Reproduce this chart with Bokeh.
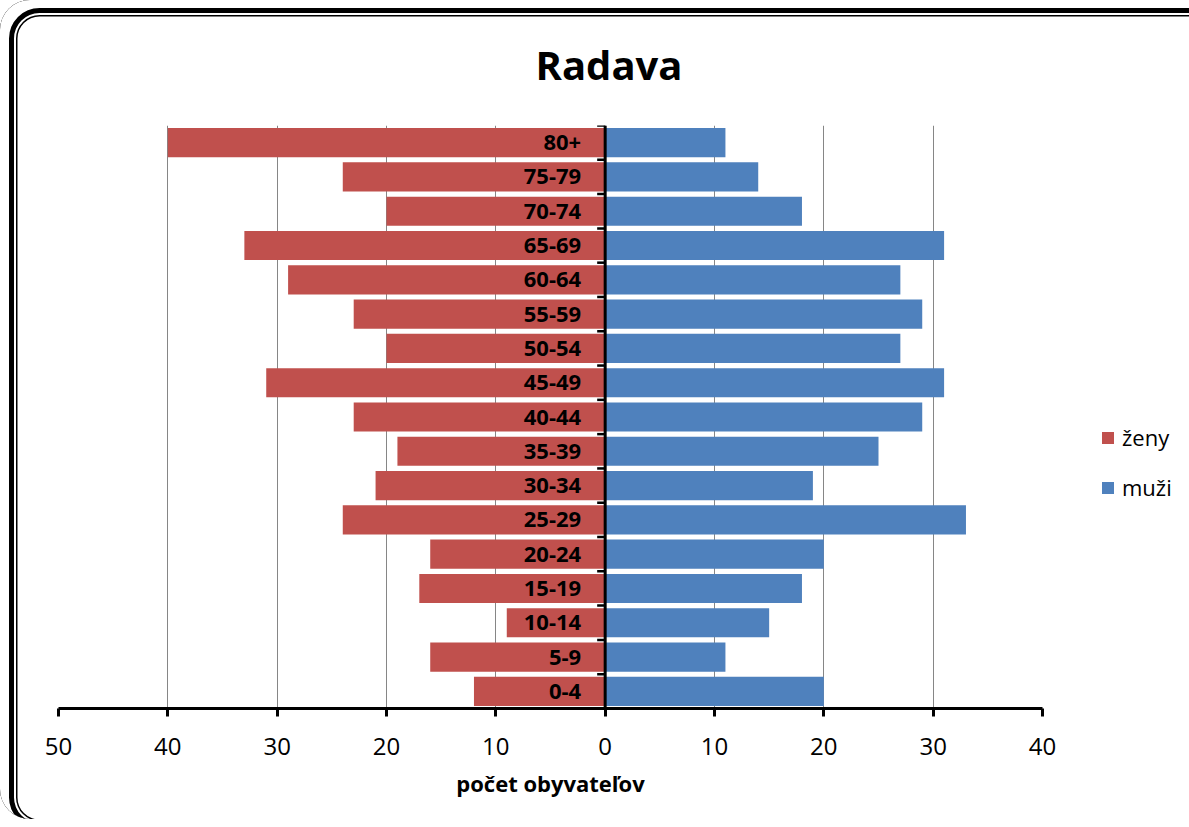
import numpy as np
from bokeh.plotting import figure
from bokeh.models import (ColumnDataSource, Range1d, FixedTicker, CustomJSTickFormatter,
                          Span, Legend, LegendItem)
from bokeh.core.properties import value
from bokeh.embed import file_html
from bokeh.resources import INLINE

# ---- data (bottom -> top) ----
ages = ["0-4", "5-9", "10-14", "15-19", "20-24", "25-29", "30-34", "35-39", "40-44",
        "45-49", "50-54", "55-59", "60-64", "65-69", "70-74", "75-79", "80+"]
zeny = [12, 16, 9, 17, 16, 24, 21, 19, 23, 31, 20, 23, 29, 33, 20, 24, 40]
muzi = [20, 11, 15, 18, 20, 33, 19, 25, 29, 31, 27, 29, 27, 31, 18, 14, 11]
x_ticks = [-50, -40, -30, -20, -10, 0, 10, 20, 30, 40]
title_text = "Radava"
x_label = "počet obyvateľov"
FONT = "Open Sans"

n = len(ages)
ypos = list(range(n))
src = ColumnDataSource(dict(
    y=ypos, age=ages,
    zleft=[-v for v in zeny], zright=[0] * n,
    mleft=[0] * n, mright=muzi,
))

p = figure(frame_width=984, frame_height=583, output_backend="svg", toolbar_location=None,
           x_range=Range1d(-50, 40), y_range=Range1d(-0.5, n - 0.5),
           min_border_left=58, min_border_right=139, min_border_top=125, min_border_bottom=111)
p.border_fill_color = None
p.background_fill_color = "white"
p.outline_line_color = None
p.styles = {
    "background-color": "white",
    "border-radius": "30px",
    "box-shadow": ("inset 9.5px 8.5px 0 -0.5px white, inset 9.5px 8.5px 0 4.5px black, "
                   "inset 9.5px 8.5px 0 6.5px white, inset 9.5px 8.5px 0 8px black"),
}

# title
p.title.text = title_text
p.title.text_font = FONT
p.title.text_font_size = "40px"
p.title.text_font_style = "bold"
p.title.text_color = "black"
p.title.align = "left"
p.title.offset = 477
p.title.standoff = 68

rz = p.hbar(y="y", left="zleft", right="zright", height=0.85, source=src,
            fill_color="#C0504D", line_color=None)
rm = p.hbar(y="y", left="mleft", right="mright", height=0.85, source=src,
            fill_color="#4F81BD", line_color=None)

# center axis line and category ticks
p.add_layout(Span(location=0, dimension="height", line_color="black", line_width=3))
bounds = [i - 0.5 for i in range(n + 1)]
p.ray(x=[0] * len(bounds), y=bounds, length=8, length_units="screen", angle=np.pi,
      line_color="black", line_width=2.5)

# category labels
p.text(x=0, y="y", text="age", source=src, x_offset=-24, text_align="right",
       text_baseline="middle", text_font=value(FONT), text_font_style="bold",
       text_font_size="22px", text_color="black")

# axes / grid
p.yaxis.visible = False
p.ygrid.grid_line_color = None
p.xgrid.grid_line_color = "#868686"
p.xgrid.grid_line_width = 1
p.xaxis.ticker = FixedTicker(ticks=x_ticks)
p.xaxis.formatter = CustomJSTickFormatter(code="return Math.abs(tick).toString();")
p.xaxis.axis_line_width = 3
p.xaxis.axis_line_color = "black"
p.xaxis.major_tick_line_width = 3
p.xaxis.major_tick_line_color = "black"
p.xaxis.major_tick_out = 8
p.xaxis.major_tick_in = 0
p.xaxis.minor_tick_line_color = None
p.xaxis.major_label_text_font = FONT
p.xaxis.major_label_text_font_size = "24px"
p.xaxis.major_label_text_color = "black"
p.xaxis.major_label_standoff = 21
p.xaxis.axis_label = x_label
p.xaxis.axis_label_text_font = FONT
p.xaxis.axis_label_text_font_size = "22px"
p.xaxis.axis_label_text_font_style = "bold"
p.xaxis.axis_label_text_color = "black"
p.xaxis.axis_label_standoff = 10

legend = Legend(items=[LegendItem(label="ženy", renderers=[rz]),
                       LegendItem(label="muži", renderers=[rm])],
                location=(58, 206), padding=0, margin=0, spacing=20,
                glyph_width=15, glyph_height=15, label_standoff=7,
                label_text_font=FONT, label_text_font_size="22px",
                label_text_color="black",
                label_height=20, border_line_color=None, background_fill_alpha=0)
p.add_layout(legend, "right")

open("out.html", "w").write(file_html(p, INLINE))
